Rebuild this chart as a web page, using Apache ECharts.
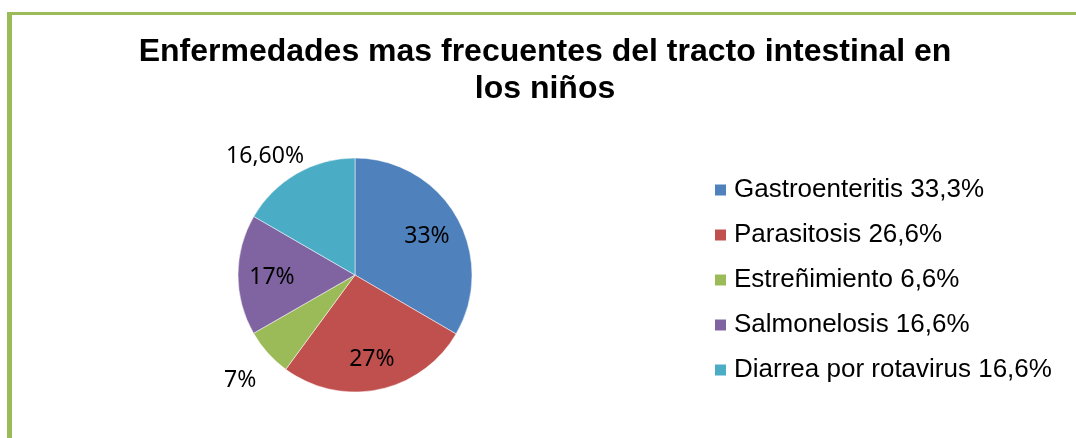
<!DOCTYPE html>
<html>
<head>
<meta charset="utf-8">
<script src="https://cdn.jsdelivr.net/npm/echarts@6/dist/echarts.min.js"></script>
<style>
  html, body { margin: 0; padding: 0; background: #fff; }
  #frame { position: absolute; left: 7px; top: 12px; width: 1069px; height: 426px;
           border-left: 5px solid #9BBB59; border-top: 3px solid #9BBB59; box-sizing: border-box; }
  #chart { position: absolute; left: 0; top: 0; width: 1076px; height: 438px; }
</style>
</head>
<body>
<div id="frame"></div>
<div id="chart"></div>
<script>
// datos del grafico
var categories = ['Gastroenteritis 33,3%', 'Parasitosis 26,6%', 'Estreñimiento 6,6%', 'Salmonelosis 16,6%', 'Diarrea por rotavirus 16,6%'];
var values = [33.3, 26.6, 6.6, 16.6, 16.6];
var sliceLabels = ['33%', '27%', '7%', '17%', '16,60%'];
var labelInside = [true, true, false, true, false];
var colors = ['#4F81BD', '#C0504D', '#9BBB59', '#8064A2', '#4BACC6'];

var chart = echarts.init(document.getElementById('chart'));

var center = [355, 275];
var radius = 117;
// pequeño ajuste de la etiqueta de arriba, como la pone Excel
var labelShift = { 4: [-13, 15] };

function pieData(showFn) {
    return categories.map(function (name, i) {
        return {
            name: name,
            value: values[i],
            label: { show: showFn(i), formatter: sliceLabels[i], offset: labelShift[i] || [0, 3] }
        };
    });
}

// serie invisible que solo sirve para colocar las etiquetas
function labelSeries(r, showFn) {
    return {
        type: 'pie',
        center: center,
        radius: [0, r],
        startAngle: 90,
        silent: true,
        legendHoverLink: false,
        z: 5,
        itemStyle: { color: 'rgba(0,0,0,0)', borderWidth: 0 },
        label: {
            position: 'inside',
            color: '#000',
            fontFamily: 'Noto Sans',
            fontSize: 23
        },
        labelLine: { show: false },
        emphasis: { disabled: true },
        data: pieData(showFn)
    };
}

var option = {
    animation: false,
    color: colors,
    title: {
        text: 'Enfermedades mas frecuentes del tracto intestinal en\nlos niños',
        left: 540,
        textAlign: 'center',
        top: 29,
        textStyle: {
            fontFamily: 'Liberation Sans',
            fontWeight: 'bold',
            fontSize: 32,
            lineHeight: 37,
            color: '#000'
        }
    },
    legend: {
        orient: 'vertical',
        left: 708,
        top: 172,
        itemWidth: 13,
        itemHeight: 13,
        itemGap: 19,
        icon: 'rect',
        data: categories,
        textStyle: {
            fontFamily: 'Liberation Sans',
            fontSize: 26,
            lineHeight: 26,
            color: '#000',
            padding: [0, 0, 0, 2]
        }
    },
    series: [
        {
            type: 'pie',
            center: center,
            radius: [0, radius],
            startAngle: 90,
            itemStyle: { borderColor: '#fff', borderWidth: 0.5 },
            label: { show: false },
            labelLine: { show: false },
            emphasis: { disabled: true },
            data: categories.map(function (name, i) { return { name: name, value: values[i] }; })
        },
        labelSeries(160, function (i) { return labelInside[i]; }),
        labelSeries(302, function (i) { return !labelInside[i]; })
    ]
};

chart.setOption(option);
</script>
</body>
</html>
